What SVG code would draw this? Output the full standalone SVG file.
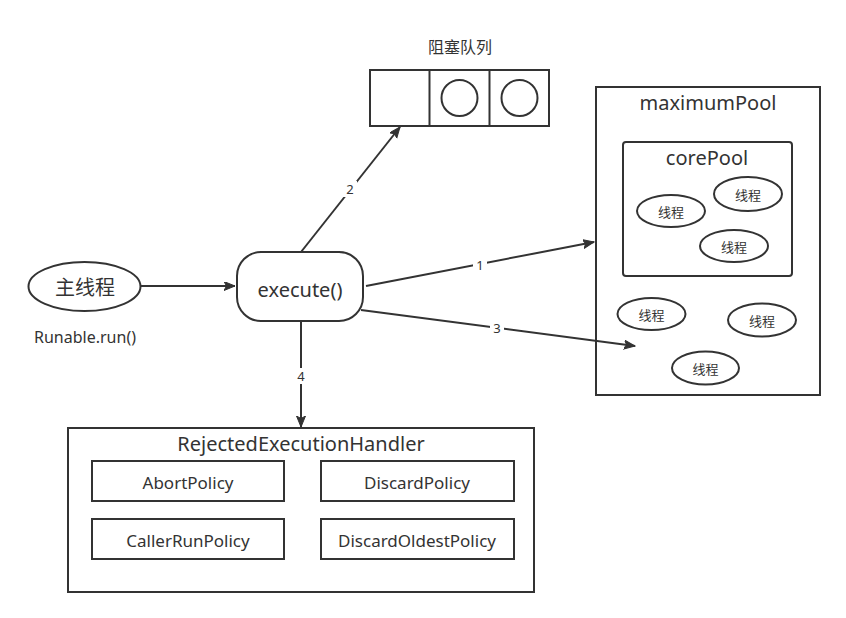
<svg xmlns="http://www.w3.org/2000/svg" width="846" height="618" viewBox="0 0 846 618">
<style>
.s{fill:#fff;stroke:#333;stroke-width:2}
.l{fill:none;stroke:#333;stroke-width:2}
text{font-family:"Noto Sans","Noto Sans CJK SC",sans-serif;fill:#333;text-anchor:middle;dominant-baseline:central}
.t13{font-size:13px}
.t16{font-size:16px}
.t17{font-size:17px}
.t20{font-size:20px}
.lb{font-size:13px}
</style>
<defs>
<marker id="a" markerWidth="12" markerHeight="10" refX="11" refY="4.5" orient="auto" markerUnits="userSpaceOnUse">
<path d="M0,0 L11,4.5 L0,9 L2.5,4.5 Z" fill="#333" stroke="#333" stroke-width="1"/>
</marker>
</defs>
<rect width="846" height="618" fill="#fff"/>
<g id="queue">
<text class="t16" x="460" y="47">阻塞队列</text>
<rect class="s" x="370" y="70" width="179" height="56"/>
<line class="l" x1="429.5" y1="70" x2="429.5" y2="126"/>
<line class="l" x1="489.5" y1="70" x2="489.5" y2="126"/>
<circle class="s" cx="459.5" cy="98" r="18"/>
<circle class="s" cx="519.5" cy="98" r="18"/>
</g>
<g id="mainThread">
<ellipse class="s" cx="84.5" cy="286.5" rx="56" ry="24.5"/>
<text class="t20" x="85" y="287">主线程</text>
<text class="t16" x="85" y="337">Runable.run()</text>
</g>
<g id="execute">
<rect class="s" x="237" y="252" width="126" height="69" rx="24" ry="24"/>
<text class="t20" x="300" y="289">execute()</text>
</g>
<g id="maximumPool">
<rect class="s" x="596" y="87" width="224" height="308"/>
<text class="t20" x="708" y="102">maximumPool</text>
<ellipse class="s" cx="651.5" cy="314" rx="34" ry="16"/>
<text class="t13" x="651.5" y="315">线程</text>
<ellipse class="s" cx="762" cy="320" rx="34" ry="16.5"/>
<text class="t13" x="762" y="321">线程</text>
<ellipse class="s" cx="705.5" cy="368" rx="33.5" ry="16.5"/>
<text class="t13" x="705.5" y="369">线程</text>
</g>
<g id="corePool">
<rect class="s" x="623" y="142" width="169" height="134" rx="3" ry="3"/>
<text class="t20" x="707" y="157">corePool</text>
<ellipse class="s" cx="671" cy="211" rx="34" ry="16"/>
<text class="t13" x="671" y="212">线程</text>
<ellipse class="s" cx="748" cy="194" rx="34" ry="17"/>
<text class="t13" x="748" y="195">线程</text>
<ellipse class="s" cx="734" cy="246" rx="34" ry="16"/>
<text class="t13" x="734" y="247">线程</text>
</g>
<g id="handler">
<rect class="s" x="68" y="428" width="466" height="164"/>
<text class="t20" x="301" y="443">RejectedExecutionHandler</text>
<rect class="s" x="92" y="461" width="192" height="40"/>
<text class="t17" x="188" y="482">AbortPolicy</text>
<rect class="s" x="321" y="461" width="193" height="40"/>
<text class="t17" x="417" y="482">DiscardPolicy</text>
<rect class="s" x="92" y="519" width="192" height="40"/>
<text class="t17" x="188" y="540">CallerRunPolicy</text>
<rect class="s" x="321" y="519" width="193" height="40"/>
<text class="t17" x="417" y="540">DiscardOldestPolicy</text>
</g>
<g id="connectors">
<line class="l" x1="141" y1="286" x2="235" y2="286" marker-end="url(#a)"/>
<line class="l" x1="301" y1="252" x2="400" y2="127" marker-end="url(#a)"/>
<line class="l" x1="366" y1="286" x2="594" y2="242" marker-end="url(#a)"/>
<line class="l" x1="361" y1="310" x2="635" y2="346" marker-end="url(#a)"/>
<line class="l" x1="301" y1="321" x2="301" y2="427" marker-end="url(#a)"/>
<rect x="343" y="181" width="14" height="16" fill="#fff"/>
<text class="lb" x="350" y="189">2</text>
<rect x="473" y="257" width="14" height="16" fill="#fff"/>
<text class="lb" x="480" y="265">1</text>
<rect x="490" y="320" width="14" height="16" fill="#fff"/>
<text class="lb" x="497" y="328">3</text>
<rect x="294" y="368" width="14" height="16" fill="#fff"/>
<text class="lb" x="301" y="376">4</text>
</g>
</svg>
